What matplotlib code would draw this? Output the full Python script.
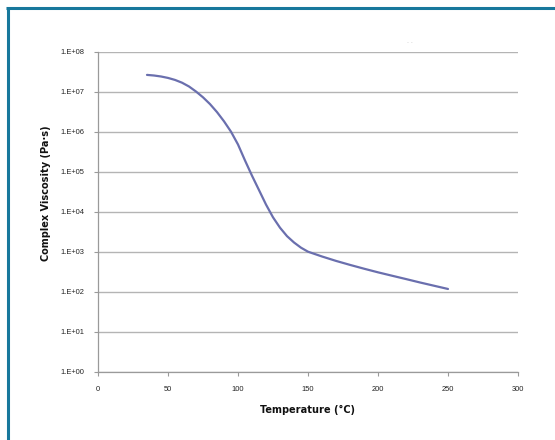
import matplotlib
matplotlib.use("Agg")
import matplotlib.pyplot as plt
from matplotlib.lines import Line2D
from matplotlib.ticker import FixedLocator, FixedFormatter
from matplotlib import font_manager
from matplotlib.font_manager import FontProperties

temperature = [35, 40, 45, 50, 55, 60, 65, 70, 75, 80, 85, 90, 95, 100, 105, 110,
               115, 120, 125, 130, 135, 140, 145, 150, 160, 170, 180, 190, 200,
               210, 220, 230, 240, 250]
viscosity = [2.63e7, 2.54e7, 2.40e7, 2.21e7, 1.97e7, 1.68e7, 1.35e7, 1.01e7, 7.24e6,
             4.90e6, 3.09e6, 1.82e6, 1.00e6, 4.79e5, 1.91e5, 7.94e4, 3.47e4, 1.51e4,
             7.24e3, 3.98e3, 2.45e3, 1.70e3, 1.26e3, 1.00e3, 759, 589, 468, 376, 305,
             251, 207, 170, 141, 117]
x_ticks = [0, 50, 100, 150, 200, 250, 300]
y_ticks = [1e0, 1e1, 1e2, 1e3, 1e4, 1e5, 1e6, 1e7, 1e8]
y_tick_labels = ["1.E+00", "1.E+01", "1.E+02", "1.E+03", "1.E+04", "1.E+05",
                 "1.E+06", "1.E+07", "1.E+08"]


def _weight(w):
    if isinstance(w, (int, float)):
        return w
    table = {"bold": 700, "heavy": 800, "black": 900, "extra bold": 800,
             "semibold": 600, "demibold": 600, "demi": 600}
    return table.get(str(w).lower(), 400)


# choose a narrow bold font for the axis titles if one is installed
label_fp = None
cands = []
for f in font_manager.fontManager.ttflist:
    narrow = ("Condensed" in f.name or "Narrow" in f.name
              or "condensed" in str(f.stretch) or "Condensed" in f.fname
              or "Narrow" in f.fname)
    if narrow and _weight(f.weight) >= 600 and f.style == "normal":
        cands.append(f)
cands.sort(key=lambda f: (abs(_weight(f.weight) - 700), f.fname))
if cands:
    label_fp = FontProperties(fname=cands[0].fname, size=7.8)
else:
    label_fp = FontProperties(family="Roboto", weight="bold", size=7.2)

W, H = 555, 440
fig = plt.figure(figsize=(W / 100, H / 100), dpi=100)
fig.patch.set_facecolor("white")

ax = fig.add_axes([98 / W, 1 - 371.7 / H, (518 - 98) / W, (371.7 - 51.7) / H])
ax.set_yscale("log")
ax.set_xlim(0, 300)
ax.set_ylim(1e0, 1e8)

ax.plot(temperature, viscosity, color="#6a6fae", lw=1.6, solid_capstyle="round",
        solid_joinstyle="round")

ax.yaxis.set_major_locator(FixedLocator(y_ticks))
ax.yaxis.set_major_formatter(FixedFormatter(y_tick_labels))
ax.yaxis.set_minor_locator(FixedLocator([]))
ax.set_xticks(x_ticks)
ax.set_xticklabels([str(t) for t in x_ticks])

ax.grid(axis="y", color="#b4b4b4", lw=1.0)
ax.set_axisbelow(True)
for s in ["top", "right"]:
    ax.spines[s].set_visible(False)
for s in ["left", "bottom"]:
    ax.spines[s].set_color("#9a9a9a")
    ax.spines[s].set_linewidth(0.9)
ax.tick_params(axis="both", direction="out", length=3, width=0.8, color="#9a9a9a",
               labelsize=5.4, labelcolor="#222222")
ax.tick_params(axis="y", pad=7)
ax.tick_params(axis="x", pad=7)
for lbl in ax.get_xticklabels() + ax.get_yticklabels():
    lbl.set_family("Liberation Sans")

ax.set_xlabel("Temperature (°C)", fontproperties=label_fp, color="#111111")
ax.set_ylabel("Complex Viscosity (Pa·s)", fontproperties=label_fp, color="#111111")
ax.xaxis.set_label_coords(0.5, -(410 - 371.7) / (371.7 - 51.7))
ax.xaxis.label.set_va("center")
ax.yaxis.set_label_coords(-(98 - 46) / (518 - 98), (371.7 - 193) / (371.7 - 51.7))
ax.yaxis.label.set_va("center")

# stray faint marks near top
fig.text(410 / W, 1 - 43 / H, "- -", fontsize=4, color="#cccccc",
         ha="center", va="center")

# frame border (top and left)
fig.add_artist(Line2D([6 / W, 1], [1 - 8 / H, 1 - 8 / H], transform=fig.transFigure,
                      color="#17789c", lw=2.2, solid_capstyle="butt"))
fig.add_artist(Line2D([7.5 / W, 7.5 / W], [0, 1 - 7 / H], transform=fig.transFigure,
                      color="#17789c", lw=2.2, solid_capstyle="butt"))

fig.savefig("out.png", dpi=100)
